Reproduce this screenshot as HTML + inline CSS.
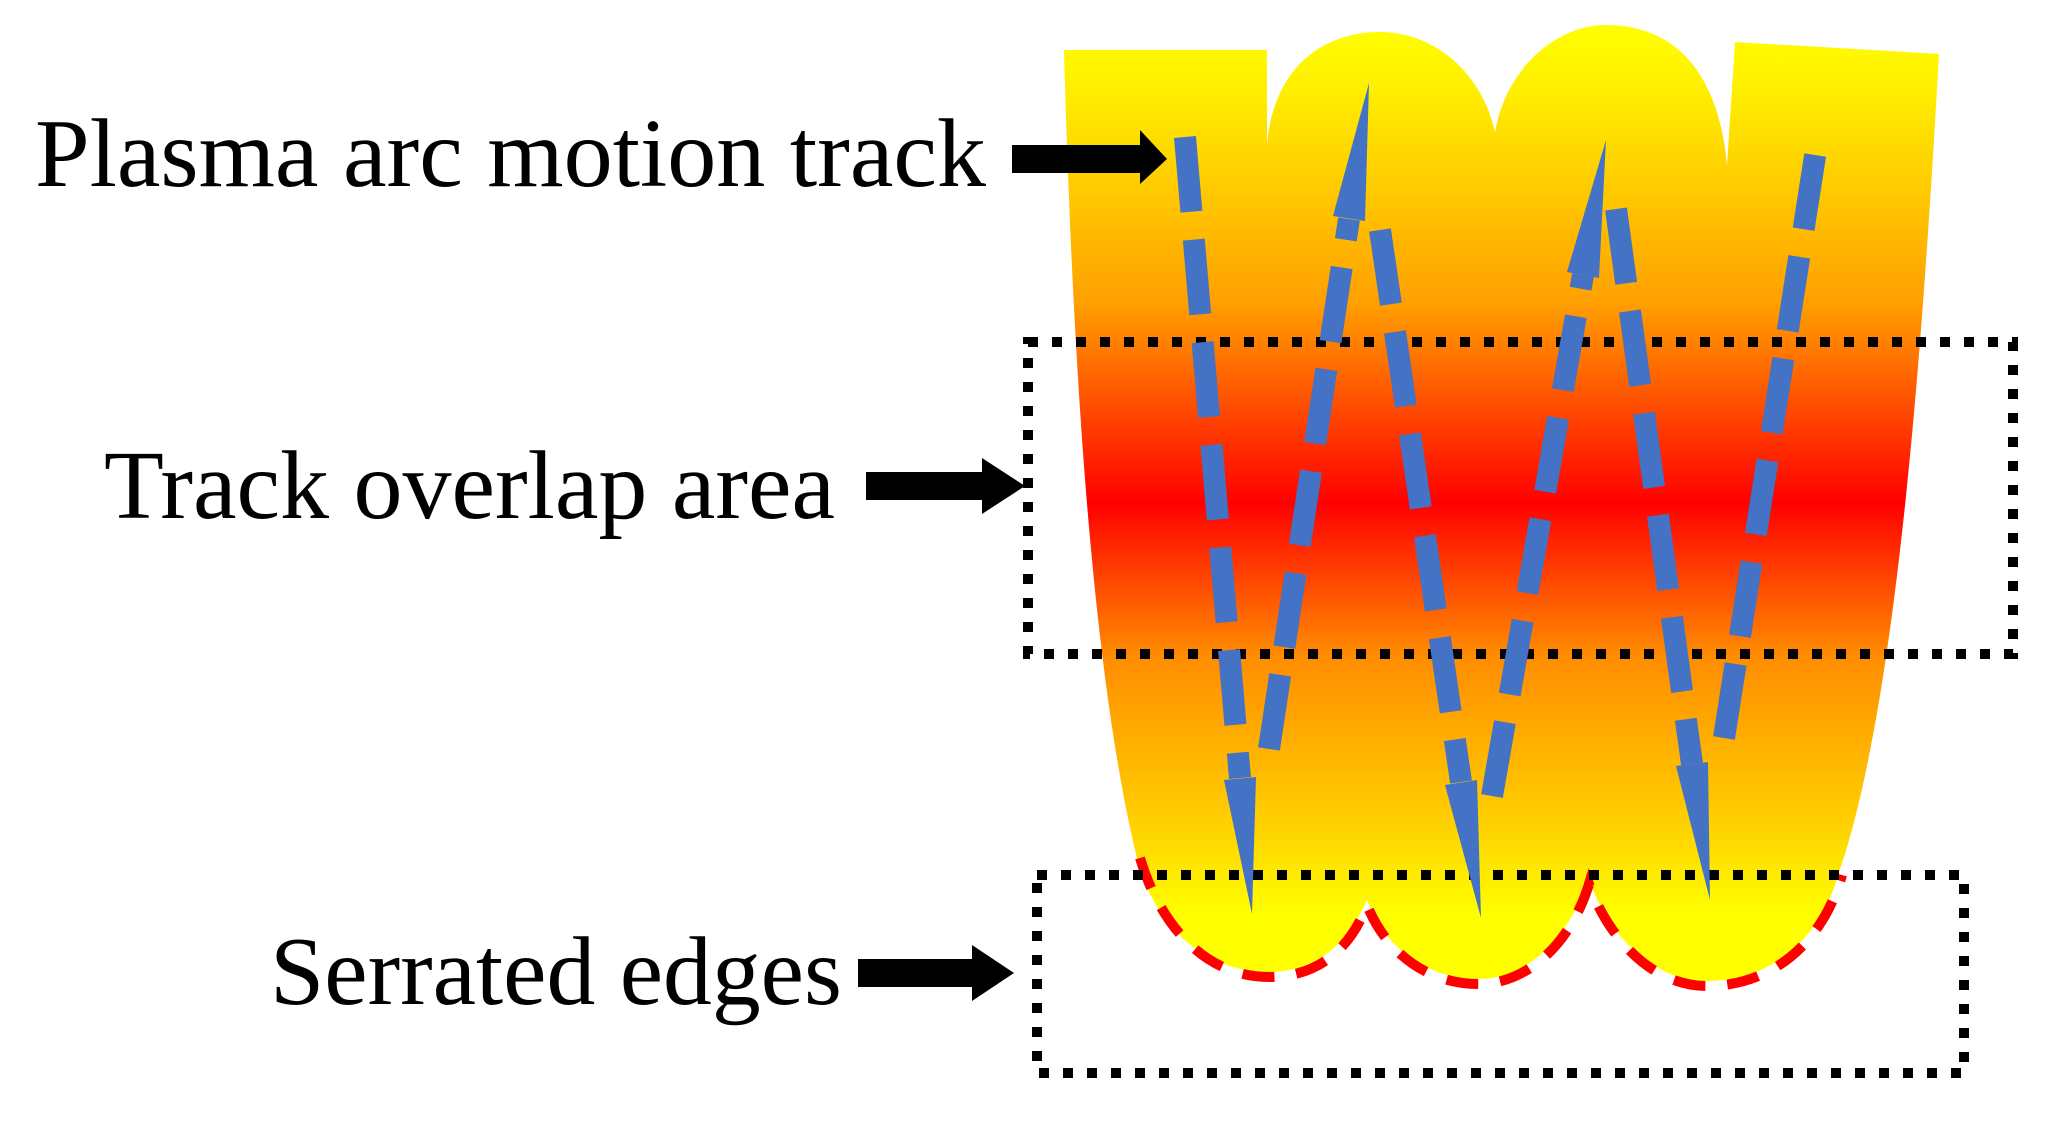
<!DOCTYPE html>
<html><head><meta charset="utf-8"><style>html,body{margin:0;padding:0;background:#fff}svg{display:block}</style></head>
<body>
<svg width="2056" height="1129" viewBox="0 0 2056 1129" xmlns="http://www.w3.org/2000/svg">
<defs>
<linearGradient id="g" gradientUnits="userSpaceOnUse" x1="0" y1="25" x2="0" y2="981">
<stop offset="0" stop-color="#ffff00"/>
<stop offset="0.07" stop-color="#ffee00"/>
<stop offset="0.29" stop-color="#ffa000"/>
<stop offset="0.5" stop-color="#ff0000"/>
<stop offset="0.66" stop-color="#ff8c00"/>
<stop offset="0.84" stop-color="#ffd200"/>
<stop offset="0.93" stop-color="#ffff00"/>
<stop offset="1" stop-color="#ffff00"/>
</linearGradient>
</defs>
<path d="M1064,50 L1267,50 L1267,144 C1275,60 1330,32 1380,32 C1440,32 1485,80 1495,133 C1505,70 1555,25 1606,25 C1680,25 1720,80 1727,166 L1735,42 L1939,54 C1925,300 1900,700 1838,875 C1820,940 1770,981 1707,981 C1650,981 1605,930 1589,878 C1570,935 1530,979 1478,979 C1430,979 1385,950 1367,900 C1345,950 1310,972 1269,972 C1200,972 1150,920 1135,850 C1100,700 1075,450 1064,50 Z" fill="url(#g)"/>
<path d="M1140,858 C1160,925 1205,977 1269,977 C1312,977 1348,955 1367,905 C1387,955 1430,984 1478,984 C1530,984 1572,940 1589,884 C1607,935 1650,986 1707,986 C1770,986 1822,945 1842,875" fill="none" stroke="#ff0000" stroke-width="10" stroke-dasharray="32 22"/>
<g fill="none" stroke="#000" stroke-width="10" stroke-dasharray="10 14">
<rect x="1028" y="342" width="985" height="312"/>
<rect x="1037" y="875" width="927" height="198"/>
</g>
<g stroke="#4472c4" stroke-width="22" stroke-dasharray="75 28" fill="none">
<line x1="1185" y1="137" x2="1240" y2="778"/>
<line x1="1269" y1="749" x2="1349" y2="219"/>
<line x1="1380" y1="230" x2="1461" y2="782"/>
<line x1="1492" y1="796" x2="1583" y2="275"/>
<line x1="1616" y1="209" x2="1692" y2="764"/>
<line x1="1724" y1="738" x2="1818" y2="137"/>
</g>
<g fill="#4472c4">
<polygon points="1256,777 1224,780 1252,914"/>
<polygon points="1365,221 1333,216 1369,83"/>
<polygon points="1477,780 1445,785 1481,918"/>
<polygon points="1599,278 1567,272 1606,140"/>
<polygon points="1708,762 1676,766 1710,900"/>
</g>
<g fill="#000">
<polygon points="1012,145 1140,145 1140,130 1167,159 1140,184 1140,173 1012,173"/>
<polygon points="866,472 982,472 982,458 1025,486 982,514 982,500 866,500"/>
<polygon points="858,959 972,959 972,945 1014,973 972,1001 972,987 858,987"/>
</g>
<g font-family="'Liberation Serif', serif" font-size="97" fill="#000">
<text x="35" y="186" textLength="951" lengthAdjust="spacingAndGlyphs">Plasma arc motion track</text>
<text x="104" y="518" textLength="731" lengthAdjust="spacingAndGlyphs">Track overlap area</text>
<text x="270" y="1004" textLength="572" lengthAdjust="spacingAndGlyphs">Serrated edges</text>
</g>
</svg>
</body></html>
